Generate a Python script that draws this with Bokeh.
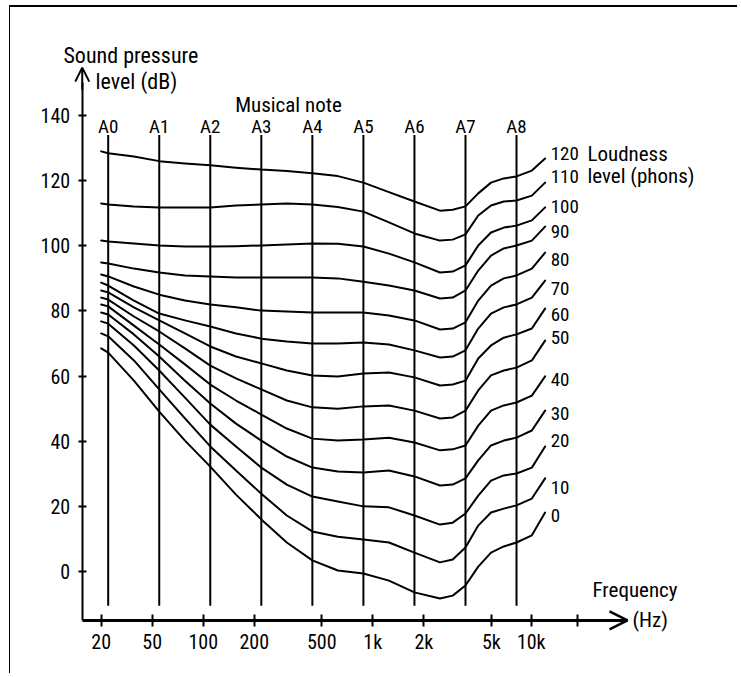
from bokeh.plotting import figure
from bokeh.models import ColumnDataSource, FixedTicker, Arrow, OpenHead, Label
from bokeh.core.properties import value
from bokeh.embed import file_html
from bokeh.resources import INLINE

FONT = "Roboto Condensed, Liberation Sans Narrow, Liberation Sans"

# ---- data ----
freq_hz = [25, 27.5, 39, 55, 78, 110, 156, 220, 311, 440, 622, 880, 1245, 1760,
           2489, 2960, 3520, 4186, 4978, 5920, 7040, 8670, 10380]

phons = [120, 110, 100, 90, 80, 70, 60, 50, 40, 30, 20, 10, 0]
# level (dB) at which each phon label sits, right of the curve ends
phon_label_spl = [128.2, 121.3, 112.2, 104.4, 95.8, 87.0, 78.8, 71.8, 58.9, 48.4, 40.1, 25.9, 17.3]
phon_label_hz = 11200

spl_120 = [129.0, 128.4, 127.4, 126.0, 125.3, 124.7, 124.0, 123.4, 123.0, 122.3, 121.4,
           119.4, 116.5, 113.6, 110.8, 111.1, 112.1, 116.1, 119.4, 120.7, 121.3, 123.1, 126.8]
spl_110 = [113.0, 112.7, 112.1, 111.8, 111.8, 111.8, 112.4, 112.7, 113.0, 112.7, 111.9,
           110.5, 107.2, 103.8, 101.6, 101.9, 103.5, 109.3, 112.4, 113.6, 113.9, 115.4, 119.4]
spl_100 = [101.6, 101.3, 100.7, 100.1, 99.8, 99.8, 99.9, 100.1, 100.4, 100.7, 100.6,
           99.8, 97.6, 94.9, 91.8, 92.1, 94.0, 100.1, 104.1, 105.6, 106.2, 107.8, 111.8]
spl_90 = [94.9, 94.6, 93.0, 91.8, 90.9, 90.6, 90.3, 90.3, 90.3, 90.3, 90.0,
          89.0, 87.8, 86.3, 83.8, 84.1, 86.3, 92.4, 97.0, 99.2, 100.1, 101.6, 105.9]
spl_80 = [91.2, 90.6, 87.5, 85.0, 83.2, 82.0, 81.1, 80.1, 79.8, 79.5, 79.5,
          79.5, 78.6, 77.1, 74.3, 74.6, 76.5, 83.2, 87.8, 90.0, 90.9, 93.0, 97.9]
spl_70 = [88.7, 87.8, 83.2, 79.2, 77.1, 75.2, 73.1, 71.5, 70.6, 70.0, 70.0,
          70.3, 69.7, 67.9, 65.7, 66.0, 67.9, 74.6, 79.2, 81.1, 82.0, 84.1, 89.3]
spl_60 = [86.3, 85.7, 81.1, 77.1, 73.1, 69.1, 66.0, 63.9, 61.7, 60.2, 59.9,
          60.8, 61.1, 59.6, 57.1, 57.4, 58.6, 65.4, 69.4, 71.8, 72.8, 74.6, 80.7]
spl_50 = [84.1, 83.5, 78.3, 73.7, 68.5, 63.2, 59.3, 55.9, 52.5, 50.4, 50.0,
          50.7, 51.0, 49.4, 47.0, 47.3, 49.4, 55.6, 60.2, 61.7, 62.6, 64.8, 70.9]
spl_40 = [82.0, 81.4, 75.5, 69.7, 63.6, 57.4, 52.5, 48.2, 43.9, 40.8, 40.2,
          40.5, 41.1, 39.6, 37.2, 37.5, 38.7, 44.8, 49.4, 51.0, 51.9, 54.0, 59.9]
spl_30 = [79.5, 78.9, 72.8, 66.0, 58.6, 51.6, 45.4, 40.2, 35.3, 31.9, 30.7,
          30.4, 31.0, 29.2, 26.4, 26.7, 28.6, 34.1, 38.7, 40.2, 41.1, 43.3, 49.4]
spl_20 = [76.8, 76.1, 69.4, 61.7, 53.4, 45.1, 38.4, 31.9, 26.7, 23.0, 21.5,
          20.0, 19.7, 17.2, 14.4, 15.0, 17.8, 23.3, 27.9, 29.5, 30.1, 31.9, 38.4]
spl_10 = [73.1, 72.2, 64.8, 55.9, 47.0, 38.4, 31.0, 23.9, 17.2, 12.3, 10.7,
          9.8, 8.9, 5.8, 2.8, 3.7, 7.4, 14.1, 18.1, 19.3, 20.3, 22.4, 28.6]
spl_0 = [68.5, 67.2, 58.6, 49.1, 40.2, 32.2, 23.6, 16.0, 8.9, 3.4, 0.3,
         -0.6, -2.8, -6.4, -8.3, -7.4, -4.3, 1.5, 5.8, 7.7, 8.9, 11.1, 18.1]

curves = [spl_120, spl_110, spl_100, spl_90, spl_80, spl_70, spl_60,
          spl_50, spl_40, spl_30, spl_20, spl_10, spl_0]

note_names = ["A0", "A1", "A2", "A3", "A4", "A5", "A6", "A7", "A8"]
note_hz = [27.5, 55, 110, 220, 440, 880, 1760, 3520, 7040]

freq_tick_hz = [25, 50, 100, 200, 500, 1000, 2000, 5000, 8600, 16200]
freq_tick_labels = ["20", "50", "100", "200", "500", "1k", "2k", "5k", "10k", ""]

spl_ticks = [0, 20, 40, 60, 80, 100, 120, 140]

# ---- figure ----
X_MIN, X_MAX = 7.297, 143470.0
Y_MIN, Y_MAX = -31.93, 173.17
AXIS_X = 19.33      # frequency where the level axis stands
AXIS_Y = -15.04     # level where the frequency axis stands

p = figure(width=728, height=668, x_axis_type="log",
           x_range=(X_MIN, X_MAX), y_range=(Y_MIN, Y_MAX),
           output_backend="svg", toolbar_location=None,
           min_border_left=0, min_border_right=0,
           min_border_top=0, min_border_bottom=0)
p.grid.visible = False
p.outline_line_color = None
p.background_fill_color = "white"
p.border_fill_color = "white"
p.styles = {"margin-left": "9px", "margin-top": "5px",
            "border-top": "2px solid black", "border-left": "1px solid black"}

# note lines
p.segment(x0=note_hz, y0=[-10.5] * len(note_hz), x1=note_hz, y1=[134] * len(note_hz),
          line_color="black", line_width=2)

# loudness curves
src = ColumnDataSource(dict(xs=[freq_hz] * len(curves), ys=curves))
p.multi_line(xs="xs", ys="ys", source=src, line_color="black", line_width=2,
             line_join="round", line_cap="round")

# note labels
p.text(x=note_hz, y=[136.5] * len(note_hz), text=note_names,
       text_align="center", text_baseline="middle",
       text_font=value(FONT), text_font_size="19px", text_color="black")

# curve labels (phons)
p.text(x=[phon_label_hz] * len(phons), y=phon_label_spl,
       text=[str(v) for v in phons],
       text_align="left", text_baseline="middle",
       text_font=value(FONT), text_font_size="19px", text_color="black")

def lab(x, y, t, size="21px", align="left"):
    p.add_layout(Label(x=x, y=y, text=t, text_font=FONT, text_font_size=size,
                       text_align=align, text_baseline="middle", text_color="black"))

lab(318, 143.2, "Musical note", align="center")
lab(18450, 128.2, "Loudness")
lab(18450, 121.3, "level (phons)")
lab(19760, -5.8, "Frequency")
lab(33960, -15.04, "(Hz)")
lab(14.98, 158.4, "Sound pressure", size="22px")
lab(23.14, 150.3, "level (dB)", size="22px")

# axes
xa = p.xaxis[0]
xa.fixed_location = AXIS_Y
xa.bounds = (AXIS_X, 30000)
xa.ticker = FixedTicker(ticks=freq_tick_hz)
xa.major_label_overrides = {t: l for t, l in zip(freq_tick_hz, freq_tick_labels)}
xa.axis_line_width = 3
xa.major_tick_in = 6
xa.major_tick_out = 6
xa.major_tick_line_width = 2
xa.minor_tick_line_color = None
xa.major_label_standoff = 4
xa.major_label_text_font = FONT
xa.major_label_text_font_size = "20px"
xa.major_label_text_color = "black"

ya = p.yaxis[0]
ya.fixed_location = AXIS_X
ya.bounds = (AXIS_Y, 150)
ya.ticker = FixedTicker(ticks=spl_ticks)
ya.axis_line_width = 2
ya.major_tick_in = 4
ya.major_tick_out = 4
ya.major_tick_line_width = 2
ya.minor_tick_line_color = None
ya.major_label_standoff = 8
ya.major_label_text_font = FONT
ya.major_label_text_font_size = "20px"
ya.major_label_text_color = "black"

p.add_layout(Arrow(end=OpenHead(size=18, line_width=2.5, line_color="black"),
                   x_start=25000, y_start=AXIS_Y, x_end=31773, y_end=AXIS_Y,
                   line_width=3, line_color="black"))
p.add_layout(Arrow(end=OpenHead(size=14, line_width=2, line_color="black"),
                   x_start=AXIS_X, y_start=148, x_end=AXIS_X, y_end=154.7,
                   line_width=2, line_color="black"))

open("out.html", "w").write(file_html(p, INLINE))
